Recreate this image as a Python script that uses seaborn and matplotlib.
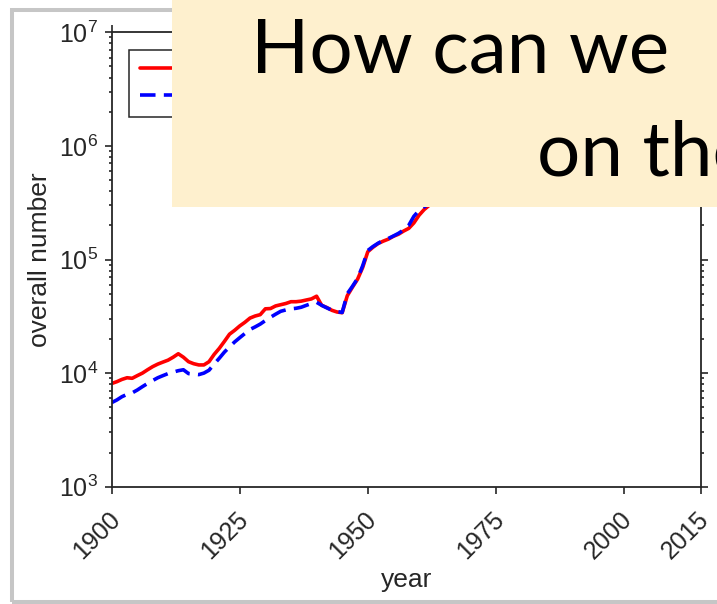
import matplotlib
matplotlib.use("Agg")
import matplotlib.pyplot as plt
import matplotlib.ticker as mticker
from matplotlib.patches import Rectangle
from matplotlib.transforms import ScaledTranslation
import numpy as np
import pandas as pd
import seaborn as sns

# ---------------- data ----------------
years = list(range(1900, 1963)) + [1965, 1970, 1975, 1980, 1985, 1990, 1995, 2000, 2005, 2010, 2015]

series_a_name = "publications"
series_a = [
    8.1e3, 8.4e3, 8.8e3, 9.1e3, 9.0e3, 9.5e3, 10.0e3, 10.7e3, 11.4e3, 12.0e3,
    12.5e3, 13.0e3, 13.8e3, 14.8e3, 13.8e3, 12.6e3, 12.1e3, 11.8e3, 11.8e3, 12.6e3,
    14.6e3, 16.5e3, 19.0e3, 22.0e3, 23.8e3, 26.0e3, 28.0e3, 30.5e3, 31.8e3, 32.7e3,
    36.8e3, 37.0e3, 39.0e3, 40.0e3, 41.0e3, 42.5e3, 42.5e3, 43.0e3, 44.0e3, 45.0e3,
    47.5e3, 39.5e3, 37.8e3, 35.7e3, 34.5e3, 34.0e3, 48.0e3, 57.0e3, 67.0e3, 85.0e3,
    117e3, 128e3, 138e3, 145e3, 151e3, 160e3, 167e3, 178e3, 188e3, 210e3,
    245e3, 275e3, 300e3,
    4.0e5, 6.0e5, 8.0e5, 1.0e6, 1.3e6, 1.6e6, 2.0e6, 2.5e6, 3.0e6, 3.6e6, 4.0e6,
]

series_b_name = "authors"
series_b = [
    5.5e3, 5.8e3, 6.2e3, 6.5e3, 6.7e3, 7.1e3, 7.6e3, 8.1e3, 8.6e3, 9.1e3,
    9.5e3, 9.9e3, 10.2e3, 10.5e3, 10.7e3, 9.9e3, 9.8e3, 9.7e3, 10.0e3, 10.6e3,
    12.0e3, 13.5e3, 15.3e3, 17.0e3, 18.8e3, 20.5e3, 22.3e3, 24.2e3, 25.5e3, 27.0e3,
    29.0e3, 31.0e3, 33.0e3, 35.0e3, 36.0e3, 36.8e3, 37.2e3, 38.0e3, 39.5e3, 41.0e3,
    42.0e3, 39.5e3, 37.5e3, 35.8e3, 34.8e3, 34.2e3, 50.0e3, 58.0e3, 68.0e3, 88.0e3,
    120e3, 130e3, 139e3, 147e3, 153e3, 161e3, 170e3, 182e3, 200e3, 240e3,
    270e3, 290e3, 310e3,
    4.2e5, 6.2e5, 8.3e5, 1.05e6, 1.35e6, 1.7e6, 2.1e6, 2.6e6, 3.1e6, 3.7e6, 4.2e6,
]

x_ticks = [1900, 1925, 1950, 1975, 2000, 2015]
x_label = "year"
y_label = "overall number"
overlay_line1 = "How can we"
overlay_line2 = "on the"

df = pd.DataFrame({
    "year": years + years,
    "count": series_a + series_b,
    "series": [series_a_name] * len(years) + [series_b_name] * len(years),
})

# ---------------- style ----------------
sns.set_theme(style="ticks")
plt.rcParams["font.family"] = ["Liberation Sans", "DejaVu Sans"]
plt.rcParams["mathtext.fontset"] = "custom"
plt.rcParams["mathtext.rm"] = "Liberation Sans"
plt.rcParams["mathtext.it"] = "Liberation Sans:italic"
plt.rcParams["mathtext.bf"] = "Liberation Sans:bold"

INK = "#262626"

fig = plt.figure(figsize=(7.17, 6.04), dpi=100, facecolor="white")
ax = fig.add_axes([111.7 / 717, 1 - 486.7 / 604, (700.7 - 111.7) / 717, (486.7 - 32.3) / 604])
ax.set_facecolor("white")

sns.lineplot(
    data=df, x="year", y="count", hue="series", style="series",
    palette={series_a_name: "#FF0000", series_b_name: "#0000FF"},
    dashes={series_a_name: "", series_b_name: (4.3, 2.3)},
    linewidth=2.6, estimator=None, errorbar=None, ax=ax,
)

ax.set_yscale("log")
ax.set_xlim(1900, 2015)
ax.set_ylim(1e3, 1e7)
ax.set_xticks(x_ticks)
ax.set_xticklabels([str(t) for t in x_ticks])
ax.xaxis.set_minor_locator(mticker.NullLocator())
ax.yaxis.set_major_locator(mticker.LogLocator(base=10, numticks=10))
ax.yaxis.set_minor_locator(mticker.LogLocator(base=10, subs=np.arange(2, 10), numticks=50))
ax.yaxis.set_minor_formatter(mticker.NullFormatter())

for sp in ax.spines.values():
    sp.set_visible(True)
    sp.set_color(INK)
    sp.set_linewidth(1.3)

ax.tick_params(which="both", direction="out", top=True, right=True,
               color=INK, labelcolor=INK, width=1.2)
ax.tick_params(which="major", length=4.7)
ax.tick_params(which="minor", length=2.4)
ax.tick_params(axis="y", which="major", labelsize=18, pad=5)
ax.tick_params(axis="x", which="major", labelsize=18, pad=10)

offset = ScaledTranslation(0.13, 0, fig.dpi_scale_trans)
for lab in ax.get_xticklabels():
    lab.set_rotation(45)
    lab.set_ha("right")
    lab.set_va("top")
    lab.set_transform(lab.get_transform() + offset)

ax.set_xlabel(x_label, fontsize=19, color=INK, labelpad=3)
ax.set_ylabel(y_label, fontsize=19, color=INK, labelpad=5)

handles, labels = ax.get_legend_handles_labels()
leg = ax.legend(handles, labels, loc="upper left", frameon=True, fancybox=False,
                edgecolor=INK, facecolor="white", framealpha=1, fontsize=15,
                borderaxespad=0.85, borderpad=0.5, labelspacing=0.38,
                handlelength=3.0, handletextpad=0.8)
leg.get_frame().set_linewidth(1.1)
for t in leg.get_texts():
    t.set_color(INK)

# grey slide frame
fig.add_artist(Rectangle((12 / 717, 1 - 602 / 604), 1.2, (602 - 9.5) / 604,
                         transform=fig.transFigure, fill=False,
                         edgecolor="#C6C6C6", linewidth=2.9, zorder=5,
                         clip_on=False))

# overlay call-out box
fig.add_artist(Rectangle((172 / 717, 1 - 207 / 604), 1.0, 207 / 604 + 0.01,
                         transform=fig.transFigure, facecolor="#FEF0CE",
                         edgecolor="none", zorder=10, clip_on=False))
fig.text(251 / 717, 1 - 72.7 / 604, overlay_line1, fontsize=55, family=["Lato", "DejaVu Sans"],
         color="black", ha="left", va="baseline", zorder=11)
fig.text(537 / 717, 1 - 175 / 604, overlay_line2, fontsize=55, family=["Lato", "DejaVu Sans"],
         color="black", ha="left", va="baseline", zorder=11)

fig.savefig("out.png", dpi=100, facecolor="white")
